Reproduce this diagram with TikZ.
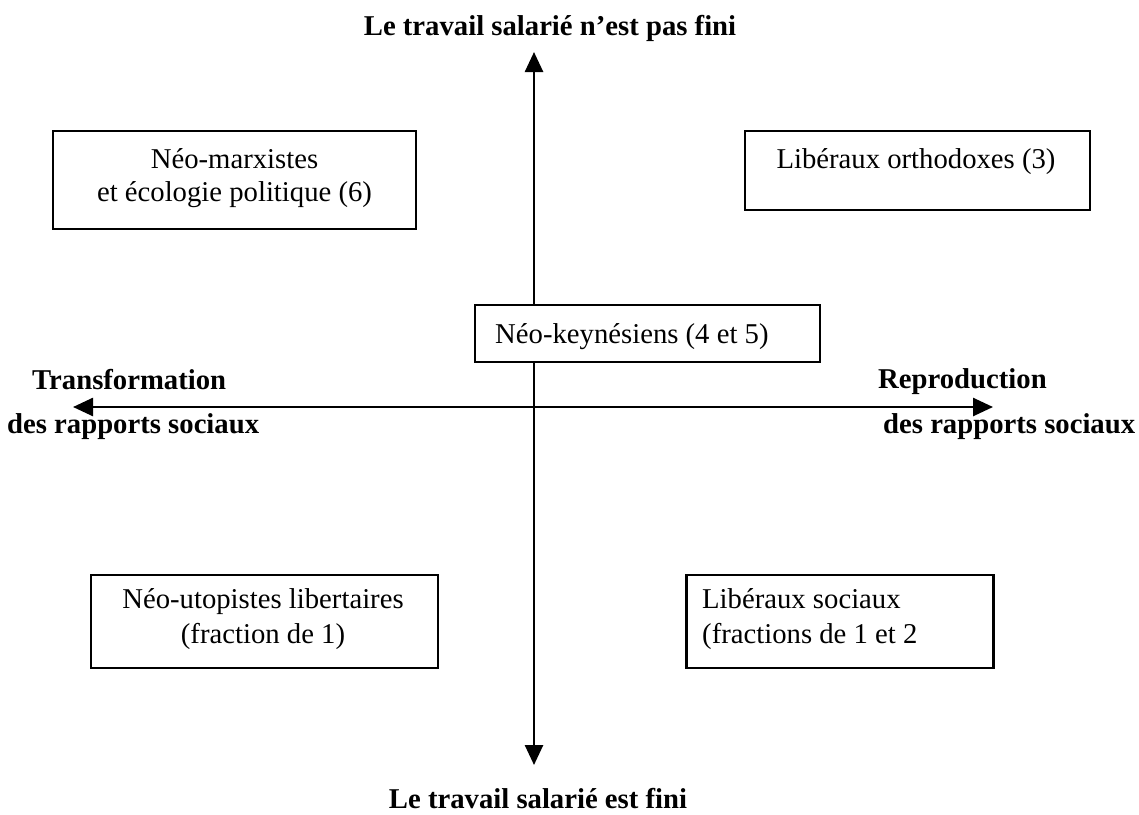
\documentclass[tikz,border=0pt]{standalone}
\usepackage{fontspec}
\setmainfont{Liberation Serif}
\usetikzlibrary{arrows.meta}
\tikzset{
  axis/.style={line width=2.6pt,{Triangle[length=20pt,width=18pt]}-{Triangle[length=20pt,width=18pt]}},
  qbox/.style={draw,line width=2.5pt,fill=white,rectangle,inner sep=0pt},
  txt/.style={font=\fontsize{28.7}{34}\selectfont,inner sep=0pt},
  btxt/.style={font=\fontsize{28.7}{34}\selectfont\bfseries,inner sep=0pt},
}
\begin{document}
\begin{tikzpicture}[x=1pt,y=-1pt]
\useasboundingbox (0,0) rectangle (1139,814);
% axis ends
\coordinate (N) at (534,52);
\coordinate (S) at (534,765);
\coordinate (W) at (73,407);
\coordinate (E) at (993,407);
\draw[axis] (N) -- (S);
\draw[axis] (W) -- (E);
% boxes
\node[qbox,minimum width=363pt,minimum height=98pt] (tlbox) at (234.5,180) {};
\node[qbox,minimum width=345pt,minimum height=79pt] (trbox) at (917.5,170.5) {};
\node[qbox,minimum width=345pt,minimum height=57pt] (cbox) at (647.5,333.5) {};
\node[qbox,minimum width=347pt,minimum height=93pt] (blbox) at (264.5,621.5) {};
\node[qbox,minimum width=307pt,minimum height=93pt] (brbox) at (840,621.5) {};
% box texts
\node[txt,anchor=base] (tl1) at (234.5,168) {Néo-marxistes};
\node[txt,anchor=base] (tl2) at (234.5,201) {et écologie politique (6)};
\node[txt,anchor=base] (tr1) at (916,168) {Libéraux orthodoxes (3)};
\node[txt,anchor=base west] (c1) at (495,343) {Néo-keynésiens (4 et 5)};
\node[txt,anchor=base] (bl1) at (263,608) {Néo-utopistes libertaires};
\node[txt,anchor=base] (bl2) at (263,643) {(fraction de 1)};
\node[txt,anchor=base west] (br1) at (702,608) {Libéraux sociaux};
\node[txt,anchor=base west] (br2) at (702,643) {(fractions de 1 et 2};
% axis labels
\node[btxt,anchor=base] (top) at (550,35) {Le travail salarié n’est pas fini};
\node[btxt,anchor=base] (bot) at (538,808) {Le travail salarié est fini};
\node[btxt,anchor=base west] (lt1) at (32,389) {Transformation};
\node[btxt,anchor=base west] (lt2) at (7,433) {des rapports sociaux};
\node[btxt,anchor=base west] (rt1) at (878,388) {Reproduction};
\node[btxt,anchor=base west] (rt2) at (883,433) {des rapports sociaux};
\end{tikzpicture}
\end{document}
